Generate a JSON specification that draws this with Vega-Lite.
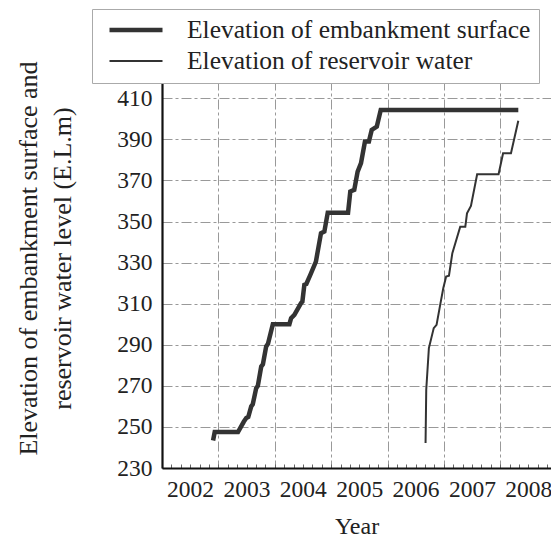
{
  "$schema": "https://vega.github.io/schema/vega-lite/v6.json",
  "width": 389,
  "height": 388,
  "autosize": {"type": "none"},
  "padding": {"left": 162, "top": 80, "right": 0, "bottom": 73},
  "background": "white",
  "config": {
    "font": "Liberation Serif",
    "view": {"stroke": null},
    "axis": {"labelFont": "Liberation Serif", "titleFont": "Liberation Serif", "labelColor": "#222", "titleColor": "#222", "titleFontWeight": "normal"}
  },
  "data": {
    "values": [
      {"series": "Elevation of embankment surface", "i": 1, "year": 2002.906, "elev": 243.4},
      {"series": "Elevation of embankment surface", "i": 2, "year": 2002.935, "elev": 247.5},
      {"series": "Elevation of embankment surface", "i": 3, "year": 2003.348, "elev": 247.5},
      {"series": "Elevation of embankment surface", "i": 4, "year": 2003.45, "elev": 252.5},
      {"series": "Elevation of embankment surface", "i": 5, "year": 2003.495, "elev": 254.3},
      {"series": "Elevation of embankment surface", "i": 6, "year": 2003.53, "elev": 254.8},
      {"series": "Elevation of embankment surface", "i": 7, "year": 2003.583, "elev": 260},
      {"series": "Elevation of embankment surface", "i": 8, "year": 2003.61, "elev": 261},
      {"series": "Elevation of embankment surface", "i": 9, "year": 2003.671, "elev": 268.9},
      {"series": "Elevation of embankment surface", "i": 10, "year": 2003.70, "elev": 270},
      {"series": "Elevation of embankment surface", "i": 11, "year": 2003.76, "elev": 279.4},
      {"series": "Elevation of embankment surface", "i": 12, "year": 2003.79, "elev": 280.5},
      {"series": "Elevation of embankment surface", "i": 13, "year": 2003.848, "elev": 289.2},
      {"series": "Elevation of embankment surface", "i": 14, "year": 2003.88, "elev": 290.5},
      {"series": "Elevation of embankment surface", "i": 15, "year": 2003.966, "elev": 300},
      {"series": "Elevation of embankment surface", "i": 16, "year": 2004.26, "elev": 300},
      {"series": "Elevation of embankment surface", "i": 17, "year": 2004.29, "elev": 303},
      {"series": "Elevation of embankment surface", "i": 18, "year": 2004.348, "elev": 304.6},
      {"series": "Elevation of embankment surface", "i": 19, "year": 2004.466, "elev": 310.3},
      {"series": "Elevation of embankment surface", "i": 20, "year": 2004.49, "elev": 311},
      {"series": "Elevation of embankment surface", "i": 21, "year": 2004.525, "elev": 319.2},
      {"series": "Elevation of embankment surface", "i": 22, "year": 2004.56, "elev": 319.6},
      {"series": "Elevation of embankment surface", "i": 23, "year": 2004.631, "elev": 324},
      {"series": "Elevation of embankment surface", "i": 24, "year": 2004.73, "elev": 330.5},
      {"series": "Elevation of embankment surface", "i": 25, "year": 2004.82, "elev": 344.3},
      {"series": "Elevation of embankment surface", "i": 26, "year": 2004.88, "elev": 345.1},
      {"series": "Elevation of embankment surface", "i": 27, "year": 2004.94, "elev": 354.3},
      {"series": "Elevation of embankment surface", "i": 28, "year": 2005.30, "elev": 354.3},
      {"series": "Elevation of embankment surface", "i": 29, "year": 2005.34, "elev": 364.6},
      {"series": "Elevation of embankment surface", "i": 30, "year": 2005.41, "elev": 365.4},
      {"series": "Elevation of embankment surface", "i": 31, "year": 2005.47, "elev": 374.3},
      {"series": "Elevation of embankment surface", "i": 32, "year": 2005.53, "elev": 378.4},
      {"series": "Elevation of embankment surface", "i": 33, "year": 2005.60, "elev": 388.9},
      {"series": "Elevation of embankment surface", "i": 34, "year": 2005.67, "elev": 388.9},
      {"series": "Elevation of embankment surface", "i": 35, "year": 2005.72, "elev": 394.6},
      {"series": "Elevation of embankment surface", "i": 36, "year": 2005.81, "elev": 396.2},
      {"series": "Elevation of embankment surface", "i": 37, "year": 2005.88, "elev": 404.3},
      {"series": "Elevation of embankment surface", "i": 38, "year": 2008.32, "elev": 404.3},
      {"series": "Elevation of reservoir water", "i": 1, "year": 2006.675, "elev": 242.2},
      {"series": "Elevation of reservoir water", "i": 2, "year": 2006.687, "elev": 268.1},
      {"series": "Elevation of reservoir water", "i": 3, "year": 2006.734, "elev": 288.4},
      {"series": "Elevation of reservoir water", "i": 4, "year": 2006.82, "elev": 298.1},
      {"series": "Elevation of reservoir water", "i": 5, "year": 2006.87, "elev": 299.7},
      {"series": "Elevation of reservoir water", "i": 6, "year": 2006.94, "elev": 310.3},
      {"series": "Elevation of reservoir water", "i": 7, "year": 2006.99, "elev": 317.6},
      {"series": "Elevation of reservoir water", "i": 8, "year": 2007.04, "elev": 323.2},
      {"series": "Elevation of reservoir water", "i": 9, "year": 2007.09, "elev": 323.6},
      {"series": "Elevation of reservoir water", "i": 10, "year": 2007.15, "elev": 334.6},
      {"series": "Elevation of reservoir water", "i": 11, "year": 2007.29, "elev": 347.5},
      {"series": "Elevation of reservoir water", "i": 12, "year": 2007.38, "elev": 347.5},
      {"series": "Elevation of reservoir water", "i": 13, "year": 2007.41, "elev": 354},
      {"series": "Elevation of reservoir water", "i": 14, "year": 2007.48, "elev": 357.6},
      {"series": "Elevation of reservoir water", "i": 15, "year": 2007.59, "elev": 373},
      {"series": "Elevation of reservoir water", "i": 16, "year": 2007.97, "elev": 373},
      {"series": "Elevation of reservoir water", "i": 17, "year": 2008.05, "elev": 383.2},
      {"series": "Elevation of reservoir water", "i": 18, "year": 2008.19, "elev": 383.2},
      {"series": "Elevation of reservoir water", "i": 19, "year": 2008.32, "elev": 399.1}
    ]
  },
  "resolve": {"scale": {"x": "shared", "y": "shared", "strokeWidth": "shared"}, "axis": {"x": "independent"}},
  "layer": [
    {
      "transform": [{"filter": "datum.series === 'Elevation of embankment surface'"}],
      "mark": {"type": "line", "color": "#333", "strokeJoin": "miter", "clip": true},
      "encoding": {
        "x": {
          "field": "year", "type": "quantitative",
          "scale": {"domain": [2002, 2008.9], "nice": false, "zero": false},
          "axis": {
            "orient": "bottom",
            "title": "Year", "titleFontSize": 24, "titlePadding": 14,
            "values": [2002, 2002.1667, 2002.3333, 2002.5, 2002.6667, 2002.8333, 2003, 2003.1667, 2003.3333, 2003.5, 2003.6667, 2003.8333, 2004, 2004.1667, 2004.3333, 2004.5, 2004.6667, 2004.8333, 2005, 2005.1667, 2005.3333, 2005.5, 2005.6667, 2005.8333, 2006, 2006.1667, 2006.3333, 2006.5, 2006.6667, 2006.8333, 2007, 2007.1667, 2007.3333, 2007.5, 2007.6667, 2007.8333, 2008, 2008.1667, 2008.3333, 2008.5, 2008.6667, 2008.8333],
            "labelExpr": "abs(datum.value - round(datum.value)) < 0.01 ? toString(round(datum.value)) : ''",
            "labelOverlap": false, "labelFlush": false,
            "labelOffset": 28, "labelFontSize": 23.5, "labelPadding": 13,
            "grid": false,
            "tickSize": -4, "tickColor": "#666", "tickWidth": 1,
            "domainColor": "#111", "domainWidth": 2.2
          }
        },
        "y": {
          "field": "elev", "type": "quantitative",
          "scale": {"domain": [230, 418.9], "nice": false, "zero": false},
          "axis": {
            "title": ["Elevation of embankment surface and", "reservoir water level (E.L.m)"],
            "titleFontSize": 26, "titleLineHeight": 34,
            "titleAngle": -90, "titleBaseline": "alphabetic", "titleAlign": "center",
            "titleX": -126, "titleY": 178,
            "values": [230, 250, 270, 290, 310, 330, 350, 370, 390, 410],
            "labelFontSize": 23.5, "labelPadding": 10,
            "ticks": false,
            "grid": true, "gridColor": "#999", "gridDash": [10, 3, 3, 3], "gridWidth": 1,
            "domainColor": "#111", "domainWidth": 2.2
          }
        },
        "strokeWidth": {
          "field": "series", "type": "ordinal",
          "scale": {"domain": ["Elevation of embankment surface", "Elevation of reservoir water"], "range": [4.5, 2]},
          "legend": {
            "title": null, "orient": "none", "legendX": -70, "legendY": -71,
            "direction": "vertical",
            "symbolType": "stroke", "symbolSize": 2809, "symbolStrokeColor": "#333",
            "clipHeight": 26, "rowPadding": 4, "padding": 8, "symbolOffset": 7,
            "labelFontSize": 25.5, "labelFont": "Liberation Serif", "labelColor": "#222", "labelOffset": 22,
            "labelLimit": 600,
            "strokeColor": "#aaa", "fillColor": "white"
          }
        },
        "order": {"field": "i", "type": "quantitative"}
      }
    },
    {
      "transform": [{"filter": "datum.series === 'Elevation of reservoir water'"}],
      "mark": {"type": "line", "color": "#333", "strokeJoin": "miter", "clip": true},
      "encoding": {
        "x": {
          "field": "year", "type": "quantitative",
          "scale": {"domain": [2002, 2008.9], "nice": false, "zero": false},
          "axis": {
            "orient": "bottom", "title": null, "labels": false, "ticks": false, "domain": false,
            "values": [2003, 2004, 2005, 2006, 2007, 2008],
            "grid": true, "gridColor": "#999", "gridDash": [10, 3, 3, 3], "gridWidth": 1
          }
        },
        "y": {"field": "elev", "type": "quantitative"},
        "strokeWidth": {"field": "series", "type": "ordinal"},
        "order": {"field": "i", "type": "quantitative"}
      }
    }
  ]
}
